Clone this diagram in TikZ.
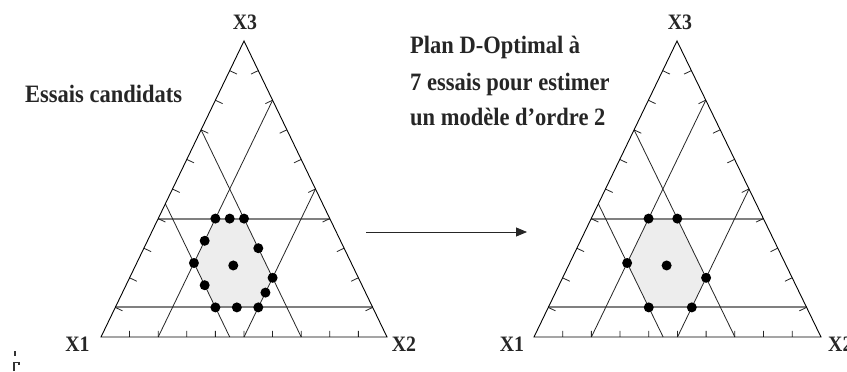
\documentclass[tikz,border=0pt]{standalone}
\usepackage{fontspec}
\setmainfont{Liberation Serif}
\newfontfamily\condserif[FakeStretch=0.9]{Liberation Serif}
\usetikzlibrary{calc,arrows.meta}
\newcommand\terntri[4]{%
  \coordinate (#1A) at (#2,337);
  \coordinate (#1B) at (#3,337);
  \coordinate (#1C) at (#4,41);
  \fill[hexfill] (barycentric cs:#1A=0.4,#1B=0.2,#1C=0.4)
    -- (barycentric cs:#1A=0.3,#1B=0.3,#1C=0.4)
    -- (barycentric cs:#1A=0.3,#1B=0.5,#1C=0.2)
    -- (barycentric cs:#1A=0.4,#1B=0.5,#1C=0.1)
    -- (barycentric cs:#1A=0.55,#1B=0.35,#1C=0.1)
    -- (barycentric cs:#1A=0.55,#1B=0.2,#1C=0.25) -- cycle;
  \coordinate (#1h1) at (barycentric cs:#1A=0.6,#1C=0.4);
  \coordinate (#1h2) at (barycentric cs:#1B=0.6,#1C=0.4);
  \coordinate (#1h3) at (barycentric cs:#1A=0.9,#1C=0.1);
  \coordinate (#1h4) at (barycentric cs:#1B=0.9,#1C=0.1);
  \draw[hline] (#1h1) -- (#1h2);
  \draw[hline] (#1h3) -- (#1h4);
  \coordinate (#1s1) at (barycentric cs:#1A=0.8,#1B=0.2);
  \coordinate (#1s2) at (barycentric cs:#1B=0.2,#1C=0.8);
  \coordinate (#1s3) at (barycentric cs:#1A=0.5,#1B=0.5);
  \coordinate (#1s4) at (barycentric cs:#1B=0.5,#1C=0.5);
  \coordinate (#1s5) at (barycentric cs:#1A=0.3,#1B=0.7);
  \coordinate (#1s6) at (barycentric cs:#1A=0.3,#1C=0.7);
  \coordinate (#1s7) at (barycentric cs:#1A=0.55,#1B=0.45);
  \coordinate (#1s8) at (barycentric cs:#1A=0.55,#1C=0.45);
  \draw[gridline] (#1s1) -- (#1s2);
  \draw[gridline] (#1s3) -- (#1s4);
  \draw[gridline] (#1s5) -- (#1s6);
  \draw[gridline] (#1s7) -- (#1s8);
  \foreach \t [evaluate=\t as \u using int(10-\t)] in {1,...,9} {
    \coordinate (#1tl) at (barycentric cs:#1A=\u,#1C=\t);
    \draw[tickmark] (#1tl) -- ($(#1tl)!8pt!-90:(#1C)$);
    \coordinate (#1tr) at (barycentric cs:#1B=\u,#1C=\t);
    \draw[tickmark] (#1tr) -- ($(#1tr)!8pt!90:(#1C)$);
    \coordinate (#1tb) at (barycentric cs:#1A=\u,#1B=\t);
    \draw[tickmark] (#1tb) -- ($(#1tb)!6pt!90:(#1B)$);
  }
  \draw[edge] (#1A) -- (#1B) -- (#1C) -- cycle;
}
\begin{document}
\begin{tikzpicture}[x=1pt,y=-1pt,
  edge/.style={line width=0.9pt, black, line join=miter},
  gridline/.style={line width=0.8pt, black!85},
  hline/.style={line width=1.9pt, black!50},
  hexfill/.style={fill=black!7},
  tickmark/.style={line width=0.8pt, black!85},
  dot/.style={circle, fill=black, inner sep=0pt, minimum size=10pt},
  lab/.style={font=\condserif\bfseries\fontsize{22}{22}\selectfont, text=black!85, inner sep=0pt, anchor=base},
  ttl/.style={font=\condserif\bfseries\fontsize{25}{28}\selectfont, text=black!85, inner sep=0pt, anchor=base west},
]
\useasboundingbox (0,0) rectangle (847,372);
\fill[white] (0,0) rectangle (847,372);

\terntri{L}{101}{387}{244}
\terntri{R}{534}{821}{677}

% candidate points (left)
\foreach \a/\b/\c [count=\i] in {0.4/0.2/0.4, 0.35/0.25/0.4, 0.3/0.3/0.4, 0.3/0.4/0.3, 0.3/0.5/0.2,
  0.35/0.5/0.15, 0.4/0.5/0.1, 0.475/0.425/0.1, 0.55/0.35/0.1, 0.55/0.275/0.175,
  0.55/0.2/0.25, 0.475/0.2/0.325, 0.41667/0.34167/0.24167}
  \node[dot] (cand\i) at (barycentric cs:LA=\a,LB=\b,LC=\c) {};

% D-optimal points (right)
\foreach \a/\b/\c [count=\i] in {0.4/0.2/0.4, 0.3/0.3/0.4, 0.3/0.5/0.2,
  0.4/0.5/0.1, 0.55/0.35/0.1, 0.55/0.2/0.25, 0.41667/0.34167/0.24167}
  \node[dot] (opt\i) at (barycentric cs:RA=\a,RB=\b,RC=\c) {};

% labels
\node[lab] (lx3) at (245,30) {X3};
\node[lab] (lx1) at (77.5,351) {X1};
\node[lab] (lx2) at (404,351) {X2};
\node[lab] (rx3) at (680,30) {X3};
\node[lab] (rx1) at (512,351) {X1};
\node[lab, anchor=base west] (rx2) at (828,351) {X2};

\node[ttl] (cand) at (25,102) {Essais candidats};
\node[ttl] (t1) at (410,53) {Plan D-Optimal à};
\node[ttl] (t2) at (410,90) {7 essais pour estimer};
\node[ttl] (t3) at (410,125) {un modèle d’ordre 2};

% arrow
\coordinate (arrS) at (366,232);
\coordinate (arrE) at (527,232);
\draw[line width=0.8pt, black!85, -{Triangle[length=11pt,width=9pt]}] (arrS) -- (arrE);

% stray mark
\draw[line width=1.1pt, black!80] (15,351) -- (15,356);
\draw[line width=1.3pt, black!80] (14,371) -- (14,362.5) -- (19,362.5) -- (19,365);
\end{tikzpicture}
\end{document}
